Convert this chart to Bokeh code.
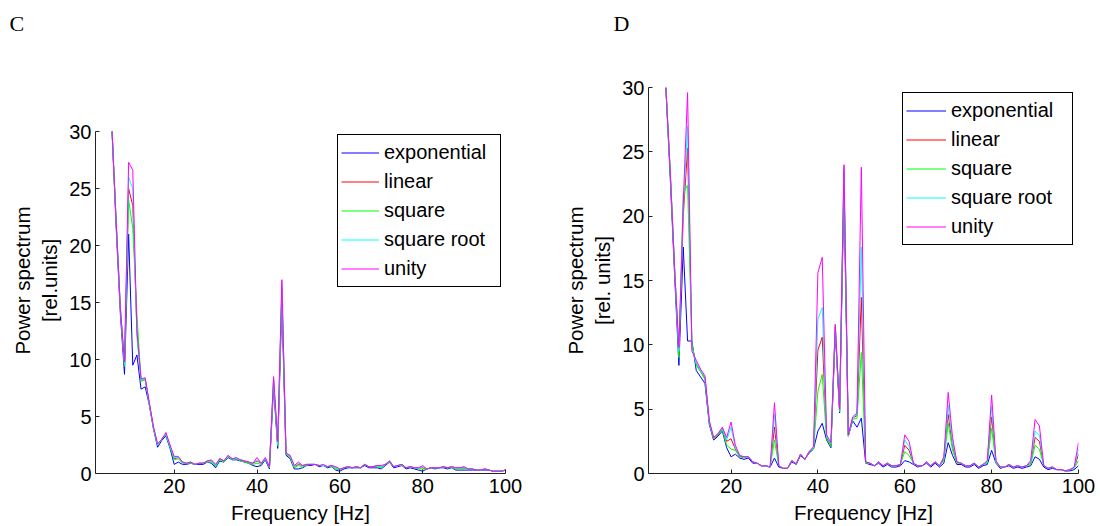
from bokeh.plotting import figure
from bokeh.layouts import row, column
from bokeh.models import Legend, LegendItem, Range1d, FixedTicker
from bokeh.embed import file_html
from bokeh.resources import INLINE

freq = list(range(5, 101))
series_names = ["exponential", "linear", "square", "square root", "unity"]
series_colors = ["#0000ff", "#ff0000", "#00ff00", "#00ffff", "#ff00ff"]
x_ticks = [20, 40, 60, 80, 100]
y_ticks = [0, 5, 10, 15, 20, 25, 30]

# ---- Panel C ----
c_exponential = [30, 21.5, 14, 8.7, 21.0, 9.5, 10.4, 7.4, 7.6, 6.0,
                 3.9, 2.3, 2.9, 3.3, 2.2, 0.8, 1.0, 0.8, 0.8, 0.9,
                 0.8, 0.8, 0.8, 1.0, 0.9, 0.5, 1.1, 1.0, 1.4, 1.2,
                 1.2, 1.1, 1.0, 0.9, 0.7, 0.6, 0.7, 1.2, 0.4, 7.6,
                 2.2, 15.0, 1.6, 1.3, 0.4, 0.4, 0.5, 0.7, 0.7, 0.8,
                 0.6, 0.7, 0.5, 0.6, 0.3, 0.2, 0.4, 0.5, 0.5, 0.5,
                 0.5, 0.7, 0.5, 0.5, 0.5, 0.4, 0.7, 1.0, 0.5, 0.6,
                 0.7, 0.4, 0.5, 0.4, 0.3, 0.2, 0.4, 0.5, 0.4, 0.5,
                 0.5, 0.4, 0.5, 0.3, 0.3, 0.3, 0.3, 0.3, 0.3, 0.3,
                 0.3, 0.3, 0.2, 0.2, 0.2, 0.3]
c_linear = [30, 22, 14.5, 9.5, 25.0, 23.5, 12.5, 8.2, 8.3, 6.1,
            4.0, 2.5, 3.0, 3.5, 2.4, 1.3, 1.4, 1.0, 0.9, 1.0,
            0.8, 0.9, 0.9, 1.1, 1.1, 0.7, 1.3, 1.1, 1.5, 1.3,
            1.3, 1.2, 1.1, 1.0, 0.9, 1.1, 0.9, 1.3, 0.6, 8.2,
            2.5, 16.3, 1.8, 1.5, 0.6, 0.8, 0.7, 0.8, 0.8, 0.8,
            0.7, 0.7, 0.6, 0.7, 0.5, 0.3, 0.5, 0.6, 0.5, 0.6,
            0.5, 0.8, 0.6, 0.6, 0.7, 0.6, 0.8, 1.1, 0.6, 0.7,
            0.8, 0.5, 0.6, 0.5, 0.5, 0.5, 0.4, 0.5, 0.5, 0.5,
            0.6, 0.5, 0.6, 0.5, 0.5, 0.5, 0.4, 0.4, 0.3, 0.3,
            0.4, 0.3, 0.2, 0.2, 0.2, 0.3]
c_square = [30, 22, 14.5, 9.4, 24.0, 21.5, 14.0, 8.1, 8.2, 6.1,
            4.0, 2.5, 3.0, 3.4, 2.3, 1.2, 1.3, 0.9, 0.9, 0.9,
            0.8, 0.9, 0.9, 1.0, 1.0, 0.6, 1.2, 1.0, 1.5, 1.2,
            1.3, 1.1, 1.0, 0.9, 0.8, 0.9, 0.8, 1.3, 0.5, 8.0,
            2.4, 15.8, 1.7, 1.4, 0.5, 0.7, 0.6, 0.7, 0.8, 0.8,
            0.7, 0.7, 0.6, 0.6, 0.4, 0.3, 0.5, 0.6, 0.5, 0.6,
            0.5, 0.8, 0.6, 0.6, 0.6, 0.5, 0.8, 1.0, 0.6, 0.7,
            0.7, 0.5, 0.6, 0.5, 0.4, 0.4, 0.4, 0.5, 0.5, 0.5,
            0.6, 0.5, 0.5, 0.4, 0.4, 0.45, 0.4, 0.4, 0.3, 0.3,
            0.4, 0.3, 0.2, 0.2, 0.2, 0.3]
c_square_root = [30, 22, 14.5, 9.6, 26.0, 25.0, 12.0, 8.2, 8.3, 6.1,
                 4.0, 2.5, 3.0, 3.5, 2.4, 1.4, 1.4, 1.0, 0.9, 1.0,
                 0.8, 0.9, 0.9, 1.1, 1.1, 0.7, 1.3, 1.1, 1.5, 1.3,
                 1.3, 1.2, 1.1, 1.0, 0.9, 1.2, 0.9, 1.3, 0.6, 8.3,
                 2.6, 16.6, 1.8, 1.5, 0.6, 0.9, 0.7, 0.8, 0.8, 0.8,
                 0.7, 0.7, 0.6, 0.7, 0.5, 0.35, 0.5, 0.6, 0.5, 0.6,
                 0.5, 0.8, 0.6, 0.6, 0.7, 0.6, 0.8, 1.1, 0.6, 0.7,
                 0.8, 0.5, 0.6, 0.5, 0.5, 0.6, 0.4, 0.5, 0.5, 0.5,
                 0.6, 0.5, 0.6, 0.5, 0.5, 0.55, 0.4, 0.4, 0.3, 0.3,
                 0.4, 0.3, 0.2, 0.2, 0.2, 0.3]
c_unity = [30, 22, 14.5, 9.8, 27.3, 26.6, 12.5, 8.3, 8.4, 6.2,
           4.1, 2.6, 3.0, 3.6, 2.5, 1.5, 1.5, 1.0, 0.9, 1.0,
           0.8, 0.9, 0.9, 1.1, 1.2, 0.8, 1.3, 1.1, 1.6, 1.3,
           1.4, 1.2, 1.1, 1.0, 0.9, 1.4, 0.9, 1.4, 0.6, 8.5,
           2.8, 17.0, 1.8, 1.6, 0.7, 1.0, 0.7, 0.8, 0.8, 0.8,
           0.7, 0.8, 0.6, 0.7, 0.6, 0.4, 0.5, 0.6, 0.5, 0.6,
           0.5, 0.8, 0.6, 0.6, 0.7, 0.7, 0.8, 1.1, 0.6, 0.7,
           0.8, 0.5, 0.6, 0.5, 0.5, 0.7, 0.4, 0.5, 0.5, 0.5,
           0.6, 0.5, 0.6, 0.5, 0.5, 0.6, 0.4, 0.4, 0.3, 0.3,
           0.4, 0.3, 0.2, 0.2, 0.2, 0.3]

# ---- Panel D ----
d_exponential = [30, 23, 15.5, 8.4, 17.6, 10.3, 10.3, 8.0, 7.5, 7.0,
                 3.8, 2.6, 2.9, 3.3, 2.0, 1.3, 1.5, 1.2, 1.1, 1.2,
                 0.8, 0.8, 0.6, 0.6, 0.5, 1.2, 0.5, 0.4, 0.4, 0.9,
                 0.7, 1.4, 1.1, 1.6, 1.9, 3.3, 3.9, 2.6, 2.0, 11.0,
                 4.7, 22.0, 2.9, 4.1, 3.6, 4.3, 0.8, 0.7, 0.6, 0.8,
                 0.5, 0.7, 0.5, 0.5, 0.6, 1.0, 0.9, 0.7, 0.5, 0.6,
                 0.8, 0.5, 0.8, 0.5, 0.8, 2.4, 1.4, 0.7, 0.7, 0.5,
                 0.5, 0.7, 0.4, 0.6, 0.7, 1.8, 0.8, 0.4, 0.5, 0.6,
                 0.4, 0.5, 0.4, 0.5, 0.6, 1.3, 1.1, 0.5, 0.3, 0.4,
                 0.3, 0.3, 0.2, 0.2, 0.3, 0.6]
d_linear = [30, 23.5, 16, 9.3, 20.0, 25.3, 9.9, 8.5, 8.0, 7.4,
            4.0, 2.7, 3.0, 3.5, 2.5, 2.7, 1.9, 1.3, 1.3, 1.3,
            0.9, 0.8, 0.6, 0.6, 0.5, 3.6, 0.6, 0.4, 0.4, 1.0,
            0.75, 1.5, 1.1, 1.7, 2.0, 9.6, 10.6, 2.8, 2.2, 11.4,
            4.9, 23.5, 3.0, 4.3, 4.5, 13.7, 0.9, 0.8, 0.6, 0.9,
            0.6, 0.8, 0.6, 0.6, 0.7, 2.2, 1.8, 0.8, 0.6, 0.6,
            0.9, 0.6, 0.9, 0.6, 1.1, 4.6, 2.1, 0.9, 0.8, 0.6,
            0.6, 0.8, 0.5, 0.7, 0.9, 4.4, 0.9, 0.5, 0.5, 0.7,
            0.5, 0.6, 0.5, 0.6, 0.8, 2.8, 2.5, 0.6, 0.4, 0.5,
            0.3, 0.3, 0.2, 0.3, 0.4, 1.5]
d_square = [30, 23.5, 16, 9.0, 21.8, 22.4, 10.1, 8.4, 7.9, 7.3,
            3.9, 2.7, 3.0, 3.4, 2.2, 1.9, 1.8, 1.3, 1.2, 1.3,
            0.9, 0.8, 0.6, 0.6, 0.5, 2.6, 0.6, 0.4, 0.4, 1.0,
            0.7, 1.5, 1.1, 1.7, 1.9, 6.4, 7.7, 2.7, 2.1, 11.2,
            4.8, 23.0, 2.9, 4.2, 4.3, 9.4, 0.8, 0.8, 0.6, 0.9,
            0.6, 0.8, 0.6, 0.6, 0.7, 1.7, 1.4, 0.8, 0.6, 0.6,
            0.9, 0.6, 0.9, 0.6, 1.0, 3.9, 1.8, 0.8, 0.8, 0.6,
            0.6, 0.8, 0.5, 0.7, 0.8, 3.5, 0.8, 0.5, 0.5, 0.7,
            0.5, 0.6, 0.5, 0.6, 0.7, 2.2, 1.9, 0.6, 0.4, 0.5,
            0.3, 0.3, 0.2, 0.3, 0.4, 1.0]
d_square_root = [30, 23.5, 16, 9.5, 20.5, 27.0, 9.7, 8.6, 8.0, 7.5,
                 4.0, 2.8, 3.1, 3.5, 2.6, 3.6, 2.0, 1.4, 1.3, 1.3,
                 0.9, 0.8, 0.6, 0.6, 0.5, 4.6, 0.6, 0.4, 0.4, 1.0,
                 0.75, 1.5, 1.1, 1.7, 2.0, 12.0, 12.9, 2.9, 2.3, 11.5,
                 5.0, 23.8, 3.0, 4.3, 4.6, 17.6, 0.9, 0.8, 0.6, 0.9,
                 0.6, 0.8, 0.6, 0.6, 0.7, 2.6, 2.1, 0.8, 0.6, 0.6,
                 0.9, 0.6, 0.9, 0.6, 1.2, 5.3, 2.4, 0.9, 0.8, 0.6,
                 0.6, 0.8, 0.5, 0.7, 0.9, 5.2, 0.9, 0.5, 0.5, 0.7,
                 0.5, 0.6, 0.5, 0.6, 0.9, 3.3, 3.0, 0.6, 0.4, 0.5,
                 0.3, 0.3, 0.2, 0.3, 0.4, 1.9]
d_unity = [30, 23.5, 16, 9.8, 21.0, 29.6, 9.5, 8.8, 8.1, 7.6,
           4.1, 2.8, 3.1, 3.6, 2.8, 4.0, 2.2, 1.4, 1.3, 1.3,
           0.9, 0.8, 0.6, 0.6, 0.5, 5.5, 0.6, 0.4, 0.4, 1.0,
           0.75, 1.5, 1.1, 1.7, 2.1, 15.6, 16.8, 3.0, 2.4, 11.6,
           5.0, 24.0, 3.0, 4.4, 4.7, 23.8, 0.9, 0.8, 0.6, 0.9,
           0.6, 0.8, 0.6, 0.6, 0.7, 3.0, 2.5, 0.8, 0.6, 0.6,
           0.9, 0.6, 0.9, 0.6, 1.3, 6.3, 2.8, 0.9, 0.8, 0.6,
           0.6, 0.8, 0.5, 0.7, 1.0, 6.1, 1.0, 0.5, 0.5, 0.7,
           0.5, 0.6, 0.5, 0.6, 1.0, 4.2, 3.7, 0.6, 0.4, 0.5,
           0.3, 0.3, 0.2, 0.3, 0.5, 2.4]

FONT = "Liberation Sans"
HEAD_H = 44            # strip at the top holding the panel letters
MAIN_H = 526 - HEAD_H
FRAME_TOP = 87 - HEAD_H
FRAME_BOTTOM = 473 - HEAD_H


def make_head(letter, b_left, b_right, letter_x):
    h = figure(width=550, height=HEAD_H, output_backend="svg", toolbar_location=None,
               x_axis_location=None, y_axis_location=None,
               min_border_left=b_left, min_border_right=b_right,
               min_border_top=0, min_border_bottom=0)
    h.outline_line_color = None
    h.grid.visible = False
    h.background_fill_color = "white"
    h.border_fill_color = "white"
    h.title.text = letter
    h.title.text_font = "Liberation Serif"
    h.title.text_font_size = "22px"
    h.title.text_font_style = "normal"
    h.title.text_color = "black"
    h.title.align = "left"
    h.title.offset = letter_x - b_left
    h.title.standoff = 16
    return h


def make_panel(ylabel, series, b_left, b_right, y_top, legend_loc, legend_glyph_w, legend_label_w):
    p = figure(width=550, height=MAIN_H, output_backend="svg", toolbar_location=None,
               x_range=Range1d(1, 100), y_range=Range1d(0, y_top),
               min_border_left=b_left, min_border_right=b_right,
               min_border_top=FRAME_TOP, min_border_bottom=MAIN_H - FRAME_BOTTOM)
    p.outline_line_color = None
    p.grid.visible = False
    p.background_fill_color = "white"
    p.border_fill_color = "white"
    for ax in (p.xaxis[0], p.yaxis[0]):
        ax.major_tick_in = 4
        ax.major_tick_out = 0
        ax.minor_tick_line_color = None
        ax.axis_line_color = "#222222"
        ax.major_tick_line_color = "#222222"
        ax.major_label_text_font = FONT
        ax.major_label_text_font_size = "20px"
        ax.major_label_text_color = "black"
        ax.axis_label_text_font = FONT
        ax.axis_label_text_font_size = "20.5px"
        ax.axis_label_text_font_style = "normal"
        ax.axis_label_text_color = "black"
    p.yaxis[0].bounds = (0, 30)
    p.xaxis.ticker = FixedTicker(ticks=x_ticks)
    p.yaxis.ticker = FixedTicker(ticks=y_ticks)
    p.xaxis.major_label_standoff = 5
    p.xaxis.axis_label_standoff = 5
    p.yaxis.major_label_standoff = 4
    p.yaxis.axis_label_standoff = 5
    p.xaxis.axis_label = "Frequency [Hz]"
    p.yaxis.axis_label = ylabel

    items = []
    for name, color, vals in zip(series_names, series_colors, series):
        r = p.line(freq, vals, line_color=color, line_width=1)
        items.append(LegendItem(label=name, renderers=[r]))
    leg = Legend(items=items, location=legend_loc, margin=0, padding=3, spacing=0,
                 glyph_width=legend_glyph_w, glyph_height=29, label_height=29,
                 label_width=legend_label_w, label_standoff=5,
                 label_text_font=FONT, label_text_font_size="20px",
                 label_text_color="black",
                 border_line_color="black", border_line_width=1, border_line_alpha=1,
                 background_fill_color="white", background_fill_alpha=1)
    p.add_layout(leg)
    return p


# C: y=30 sits at page pixel 131 while the frame top is at page pixel 87
pc = make_panel("Power spectrum\n[rel.units]",
                [c_exponential, c_linear, c_square, c_square_root, c_unity],
                95, 45, 30 * (FRAME_BOTTOM - FRAME_TOP) / (FRAME_BOTTOM - (131 - HEAD_H)),
                (242, 186), 38, 113)
pd_ = make_panel("Power spectrum\n[rel. units]",
                 [d_exponential, d_linear, d_square, d_square_root, d_unity],
                 98, 22, 30, (254, 228), 40, 118)

hc = make_head("C", 95, 45, 9)
hd = make_head("D", 98, 22, 613 - 550)

layout = column(row(hc, hd), row(pc, pd_))
open("out.html", "w").write(file_html(layout, INLINE))
